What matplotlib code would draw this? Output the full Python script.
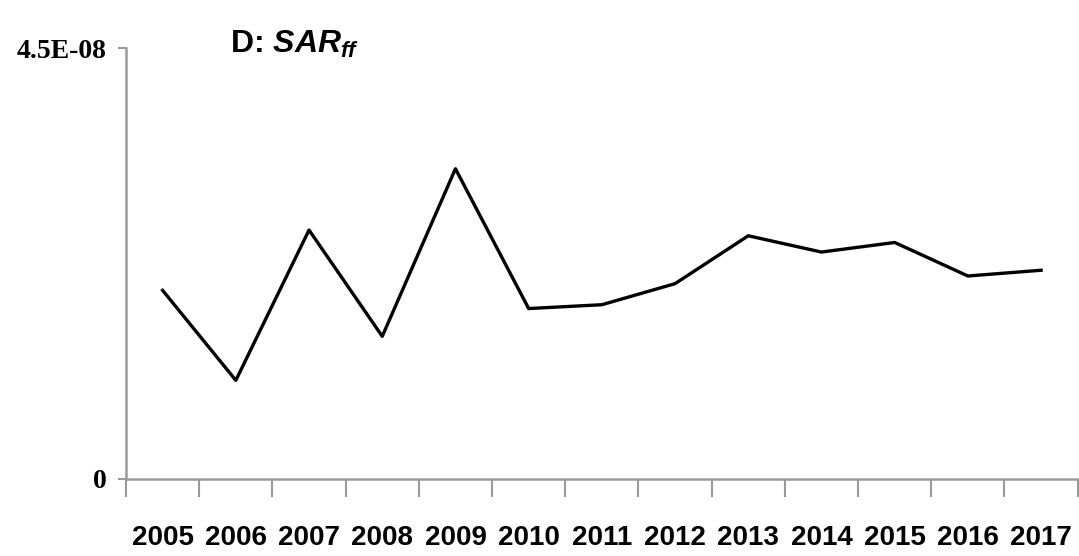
import matplotlib
matplotlib.use("Agg")
import matplotlib.pyplot as plt

years = ["2005", "2006", "2007", "2008", "2009", "2010", "2011",
         "2012", "2013", "2014", "2015", "2016", "2017"]
sar_ff = [1.97e-8, 1.03e-8, 2.60e-8, 1.49e-8, 3.24e-8, 1.78e-8, 1.82e-8,
          2.04e-8, 2.54e-8, 2.37e-8, 2.47e-8, 2.12e-8, 2.18e-8]
y_ticks = [0, 4.5e-8]
y_labels = ["0", "4.5E-08"]

plt.rcParams["mathtext.fontset"] = "custom"
plt.rcParams["mathtext.it"] = "Liberation Sans:italic:bold"
plt.rcParams["mathtext.rm"] = "Liberation Sans:bold"

fig = plt.figure(figsize=(10.79, 5.56), dpi=100)
ax = fig.add_axes([0.1168, 0.1385, 0.882, 0.775])

x = list(range(len(years)))
ax.plot(x, sar_ff, color="black", linewidth=2.4)

ax.set_xlim(-0.5, len(years) - 0.5)
ax.set_ylim(0, 4.5e-8)

# category boundaries carry the tick marks, labels sit in the middle
ax.set_xticks([i - 0.5 for i in range(len(years) + 1)])
ax.set_xticklabels([])
ax.set_xticks(x, minor=True)
ax.set_xticklabels(years, minor=True, fontsize=20, fontweight="bold",
                   family="Liberation Sans")
ax.tick_params(axis="x", which="major", length=13, width=1.5, color="#9a9a9a")
ax.tick_params(axis="x", which="minor", length=0, pad=33)

ax.set_yticks(y_ticks)
ax.set_yticklabels(y_labels, fontsize=20, fontweight="bold",
                   family="Liberation Serif")
ax.tick_params(axis="y", length=6, width=1.5, color="#9a9a9a", pad=8)

for side in ["top", "right"]:
    ax.spines[side].set_visible(False)
for side in ["left", "bottom"]:
    ax.spines[side].set_color("#9a9a9a")
    ax.spines[side].set_linewidth(1.8)

fig.text(0.213, 0.905, r"D: $SAR_{ff}$", fontsize=23, fontweight="bold",
         family="Liberation Sans")

fig.savefig("out.png", dpi=100)
